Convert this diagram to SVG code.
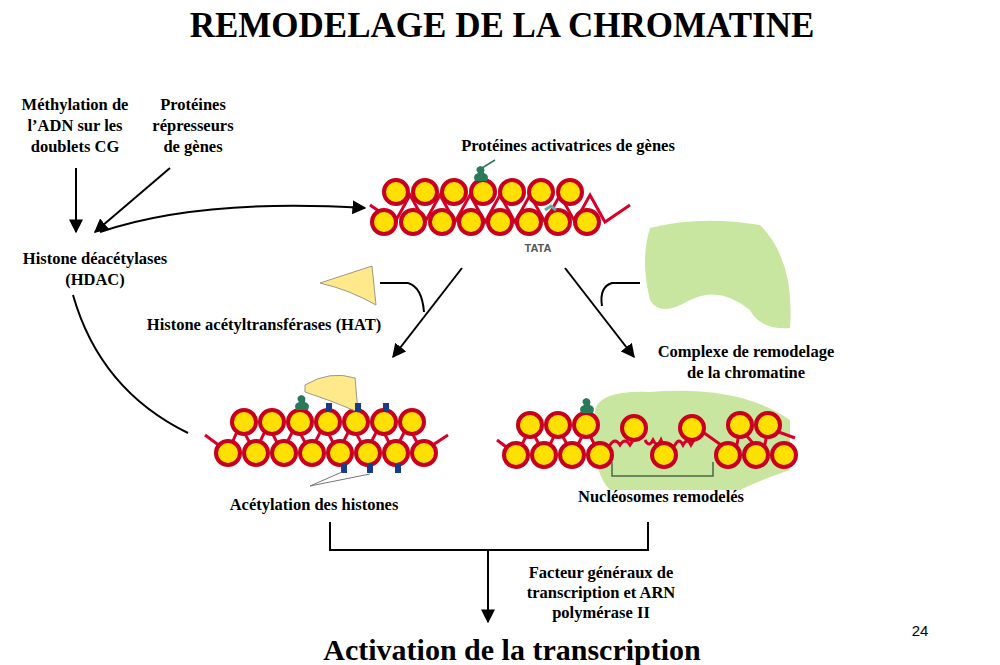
<svg xmlns="http://www.w3.org/2000/svg" width="1000" height="665" viewBox="0 0 1000 665">
<defs>
<marker id="ah" viewBox="0 0 10 10" refX="9" refY="5" markerWidth="7" markerHeight="7" orient="auto"><path d="M0,0L10,5L0,10z" fill="#000"/></marker>
<style>
.t{font-family:"Liberation Serif",serif;font-weight:bold;font-size:16.5px;text-anchor:middle;fill:#000}
.n{fill:#ffe000;stroke:#c8001e;stroke-width:4}
.dna{fill:none;stroke:#d8002a;stroke-width:3}
.c{fill:none;stroke:#000;stroke-width:2}
.g{fill:#c9e6a0}
.tag{fill:#2a7a5a}
.ac{fill:#1a3a8a}
</style>
</defs>
<rect width="1000" height="665" fill="#fff"/>
<text x="502" y="37" class="t" style="font-size:35px">REMODELAGE DE LA CHROMATINE</text>
<g id="labels">
<text class="t" x="75" y="110">Méthylation de</text><text class="t" x="75" y="131">l’ADN sur les</text><text class="t" x="75" y="152">doublets CG</text>
<text class="t" x="193" y="110">Protéines</text><text class="t" x="193" y="131">répresseurs</text><text class="t" x="193" y="152">de gènes</text>
<text class="t" x="95" y="264">Histone déacétylases</text><text class="t" x="95" y="285">(HDAC)</text>
<text class="t" x="568" y="151">Protéines activatrices de gènes</text>
<text class="t" x="264" y="330">Histone acétyltransférases (HAT)</text>
<text class="t" x="746" y="357">Complexe de remodelage</text><text class="t" x="746" y="378">de la chromatine</text>
<text class="t" x="314" y="510">Acétylation des histones</text>
<text class="t" x="661" y="502">Nucléosomes remodelés</text>
<text class="t" x="601" y="578">Facteur généraux de</text><text class="t" x="601" y="598">transcription et ARN</text><text class="t" x="601" y="618">polymérase II</text>
<text class="t" x="512" y="660" style="font-size:30px">Activation de la transcription</text>
<text x="920" y="636" style="font-family:'Liberation Sans',sans-serif;font-size:15px;text-anchor:middle">24</text>
</g>
<g id="top-chromatin">
<path class="dna" d="M370,205 L395,222 L410,195 L425,222 L440,195 L455,222 L470,195 L485,222 L500,195 L515,222 L530,195 L545,222 L560,195 L575,222 L590,195 L605,222 L630,205"/>
<g class="n"><circle cx="396" cy="192" r="12"/><circle cx="425" cy="192" r="12"/><circle cx="454" cy="192" r="12"/><circle cx="483" cy="192" r="12"/><circle cx="512" cy="192" r="12"/><circle cx="541" cy="192" r="12"/><circle cx="570" cy="192" r="12"/>
<circle cx="384" cy="222" r="12"/><circle cx="413" cy="222" r="12"/><circle cx="442" cy="222" r="12"/><circle cx="471" cy="222" r="12"/><circle cx="500" cy="222" r="12"/><circle cx="529" cy="222" r="12"/><circle cx="558" cy="222" r="12"/><circle cx="587" cy="222" r="12"/></g>
<path class="tag" d="M475,181 q-3,-6 3,-8 q-4,-5 2,-7 q6,1 4,7 q6,2 3,8z"/><line x1="482" y1="168" x2="495" y2="160" stroke="#2a7a5a" stroke-width="1.5"/>
<path d="M545,210 l6,-4 l5,4" fill="none" stroke="#6a9" stroke-width="3"/>
<text x="538" y="252" style="font-family:'Liberation Sans',sans-serif;font-size:11px;font-weight:bold;fill:#555;text-anchor:middle">TATA</text>
</g>
<g id="hat"><path d="M320,283 L372,266 L376,305 Q350,290 320,283z" fill="#ffe98a" stroke="#998" stroke-width="1"/></g>
<g id="remodel-complex"><path class="g" d="M650,228 Q700,215 760,225 Q795,260 790,328 Q760,330 750,310 Q720,285 690,300 Q660,318 650,300 Q640,260 650,228z"/></g>
<g id="left-chromatin">
<path class="dna" d="M205,435 L228,452 L240,425 L255,452 L268,425 L282,452 L296,425 L310,452 L324,425 L338,452 L352,425 L366,452 L380,425 L394,452 L408,425 L422,452 L448,435"/>
<g class="n"><circle cx="244" cy="422" r="12"/><circle cx="272" cy="422" r="12"/><circle cx="300" cy="422" r="12"/><circle cx="328" cy="422" r="12"/><circle cx="356" cy="422" r="12"/><circle cx="384" cy="422" r="12"/><circle cx="412" cy="422" r="12"/>
<circle cx="228" cy="453" r="12"/><circle cx="256" cy="453" r="12"/><circle cx="284" cy="453" r="12"/><circle cx="312" cy="453" r="12"/><circle cx="340" cy="453" r="12"/><circle cx="368" cy="453" r="12"/><circle cx="396" cy="453" r="12"/><circle cx="424" cy="453" r="12"/></g>
<path d="M305,385 Q330,370 355,378 L358,412 Q330,400 305,392z" fill="#ffe98a" stroke="#998" stroke-width="1"/>
<path class="tag" d="M296,410 q-3,-6 3,-8 q-4,-5 2,-7 q6,1 4,7 q6,2 3,8z"/>
<g class="ac"><rect x="326" y="403" width="6" height="9"/><rect x="355" y="403" width="6" height="9"/><rect x="383" y="403" width="6" height="9"/><rect x="341" y="464" width="6" height="9"/><rect x="367" y="464" width="6" height="9"/><rect x="395" y="464" width="6" height="9"/></g>
<path d="M310,486 L342,472 M310,486 L370,474" stroke="#777" stroke-width="1" fill="none"/>
</g>
<g id="right-chromatin">
<path class="g" d="M595,410 Q600,390 650,392 Q740,385 790,420 L790,470 Q760,480 740,490 L610,490 Q590,470 595,410z"/>
<path class="dna" d="M497,440 L517,455 L530,428 L545,455 L558,428 L573,455 L586,428 L600,455 L610,445 q5,-8 10,0 q5,-8 10,0 L640,430 M645,440 q4,8 8,0 q4,8 8,0 L667,455 L675,445 q4,-8 8,0 q4,-8 8,0 L700,430 L735,455 L740,428 L763,455 L768,428 L795,438"/>
<g class="n"><circle cx="530" cy="425" r="12"/><circle cx="558" cy="425" r="12"/><circle cx="586" cy="425" r="12"/><circle cx="634" cy="428" r="12"/><circle cx="692" cy="428" r="12"/><circle cx="740" cy="425" r="12"/><circle cx="768" cy="425" r="12"/>
<circle cx="516" cy="455" r="12"/><circle cx="544" cy="455" r="12"/><circle cx="572" cy="455" r="12"/><circle cx="600" cy="455" r="12"/><circle cx="664" cy="455" r="12"/><circle cx="728" cy="455" r="12"/><circle cx="756" cy="455" r="12"/><circle cx="784" cy="455" r="12"/></g>
<path class="tag" d="M581,413 q-3,-6 3,-8 q-4,-5 2,-7 q6,1 4,7 q6,2 3,8z"/>
<path d="M612,462 L612,476 L713,476 L713,462" fill="none" stroke="#4a6a4a" stroke-width="1.5"/>
</g>
<g id="connectors">
<line class="c" x1="76" y1="168" x2="76" y2="232" marker-end="url(#ah)"/>
<line class="c" x1="170" y1="168" x2="95" y2="232" marker-end="url(#ah)"/>
<path class="c" d="M100,232 Q200,198 365,208" marker-end="url(#ah)"/>
<path class="c" d="M73,295 Q100,390 188,433"/>
<line class="c" x1="462" y1="268" x2="393" y2="357" marker-end="url(#ah)"/>
<line class="c" x1="565" y1="268" x2="634" y2="357" marker-end="url(#ah)"/>
<path class="c" d="M380,283 L408,283 Q422,287 424,312"/>
<path class="c" d="M640,283 L612,283 Q599,287 602,306"/>
<path class="c" d="M330,522 L330,550 L648,550 L648,522"/>
<line class="c" x1="488" y1="550" x2="488" y2="622" marker-end="url(#ah)"/>
</g>
</svg>
